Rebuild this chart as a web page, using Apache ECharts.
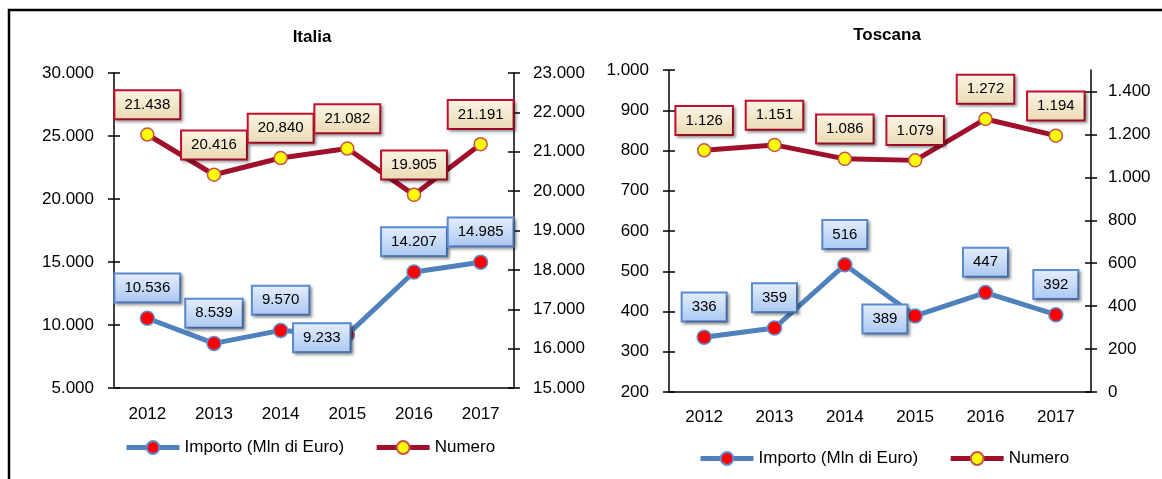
<!DOCTYPE html>
<html>
<head>
<meta charset="utf-8">
<title>Italia / Toscana</title>
<script src="https://cdn.jsdelivr.net/npm/echarts@6/dist/echarts.min.js"></script>
<style>
  html, body { margin: 0; padding: 0; background: #fff; }
  #chart { width: 1162px; height: 479px; }
</style>
</head>
<body>
<div id="chart"></div>
<script>
// dati
const years = ['2012', '2013', '2014', '2015', '2016', '2017'];
const italiaImporto = [10536, 8539, 9570, 9233, 14207, 14985];
const italiaNumero = [21438, 20416, 20840, 21082, 19905, 21191];
const toscanaImporto = [336, 359, 516, 389, 447, 392];
const toscanaNumero = [1126, 1151, 1086, 1079, 1272, 1194];
const toscanaNumeroTicks = [0, 200, 400, 600, 800, 1000, 1200, 1400];

const NAME_IMPORTO = 'Importo (Mln di Euro)';
const NAME_NUMERO = 'Numero';
const FONT = '"Liberation Sans", Arial, sans-serif';

function fmt (v) {
    return String(v).replace(/\B(?=(\d{3})+(?!\d))/g, '.');
}

const axisColor = '#000';

function mainX (grid, margin) {
    return {
        gridIndex: grid,
        type: 'category',
        position: 'bottom',
        data: years,
        axisLine: { lineStyle: { color: axisColor, width: 1.5 } },
        axisTick: { length: 6, lineStyle: { color: axisColor, width: 1.5 } },
        axisLabel: { color: '#000', fontSize: 17, fontFamily: FONT, margin: margin }
    };
}
// asse gemello: solo le tacche verso l'interno (tacche a croce)
function twinX (grid) {
    return {
        gridIndex: grid,
        type: 'category',
        position: 'bottom',
        data: years,
        axisLine: { show: false },
        axisTick: { inside: true, length: 6, lineStyle: { color: axisColor, width: 1.5 } },
        axisLabel: { show: false }
    };
}
function mainY (grid, pos, min, max, interval, margin, ticks) {
    const ax = {
        gridIndex: grid,
        type: 'value',
        position: pos,
        min: min,
        max: max,
        interval: interval,
        splitLine: { show: false },
        axisLine: { show: true, lineStyle: { color: axisColor, width: 1.5 } },
        axisTick: { show: true, length: 6, lineStyle: { color: axisColor, width: 1.5 } },
        axisLabel: { color: '#000', fontSize: 17, fontFamily: FONT, margin: margin, formatter: fmt }
    };
    if (ticks) {
        ax.axisTick.customValues = ticks;
        ax.axisLabel.customValues = ticks;
    }
    return ax;
}
function twinY (grid, pos, min, max, interval, ticks) {
    const ax = {
        gridIndex: grid,
        type: 'value',
        position: pos,
        min: min,
        max: max,
        interval: interval,
        splitLine: { show: false },
        axisLine: { show: false },
        axisTick: { show: true, inside: true, length: 6, lineStyle: { color: axisColor, width: 1.5 } },
        axisLabel: { show: false }
    };
    if (ticks) ax.axisTick.customValues = ticks;
    return ax;
}

const labelImporto = {
    show: true,
    position: 'top',
    distance: 9,
    color: '#000',
    fontSize: 15,
    fontFamily: FONT,
    lineHeight: 15,
    padding: [6, 9, 6, 9],
    borderColor: '#5a8ad0',
    borderWidth: 2,
    backgroundColor: new echarts.graphic.LinearGradient(0, 0, 0, 1, [
        { offset: 0, color: '#e6effc' },
        { offset: 1, color: '#a9c7f2' }
    ]),
    shadowColor: 'rgba(0,0,0,0.35)',
    shadowBlur: 3,
    shadowOffsetX: 2,
    shadowOffsetY: 2,
    formatter: p => fmt(p.value)
};
const labelNumero = Object.assign({}, labelImporto, {
    borderColor: '#c0102e',
    backgroundColor: new echarts.graphic.LinearGradient(0, 0, 0, 1, [
        { offset: 0, color: '#fcf6e6' },
        { offset: 1, color: '#ead9b2' }
    ])
});

function importoSeries (x, y, values, leftIdx, leftDist) {
    return {
        name: NAME_IMPORTO,
        type: 'line',
        xAxisIndex: x,
        yAxisIndex: y,
        symbol: 'circle',
        symbolSize: 14,
        lineStyle: { color: '#4f81bd', width: 5 },
        itemStyle: { color: '#ff0000', borderColor: '#5f8fd0', borderWidth: 1.5 },
        label: labelImporto,
        z: 3,
        data: values.map((v, i) => i === leftIdx
            ? { value: v, label: { position: 'left', distance: leftDist, offset: [0, 3] } }
            : v)
    };
}
function numeroSeries (x, y, values) {
    return {
        name: NAME_NUMERO,
        type: 'line',
        xAxisIndex: x,
        yAxisIndex: y,
        symbol: 'circle',
        symbolSize: 13,
        lineStyle: { color: '#a0102c', width: 5 },
        itemStyle: { color: '#ffff00', borderColor: '#c8504d', borderWidth: 1.5 },
        label: labelNumero,
        z: 3,
        data: values
    };
}

const legendBase = {
    orient: 'horizontal',
    padding: 0,
    itemWidth: 53,
    itemHeight: 16,
    itemGap: 30,
    lineStyle: { width: 5 },
    textStyle: { color: '#000', fontSize: 17, fontFamily: FONT },
    data: [NAME_IMPORTO, NAME_NUMERO]
};

const chart = echarts.init(document.getElementById('chart'));
chart.setOption({
    animation: false,
    backgroundColor: '#fff',
    title: [
        { text: 'Italia', left: 307, top: 24, textAlign: 'center',
          textStyle: { color: '#000', fontSize: 17, fontWeight: 'bold', fontFamily: FONT } },
        { text: 'Toscana', left: 882, top: 22, textAlign: 'center',
          textStyle: { color: '#000', fontSize: 17, fontWeight: 'bold', fontFamily: FONT } }
    ],
    legend: [
        Object.assign({}, legendBase, { left: 124, top: 439 }),
        Object.assign({}, legendBase, { left: 698, top: 450 })
    ],
    grid: [
        { left: 114, top: 73, width: 400, height: 315 },
        { left: 669, top: 70, width: 422, height: 322 }
    ],
    xAxis: [
        mainX(0, 18),
        mainX(1, 17),
        twinX(0),
        twinX(1)
    ],
    yAxis: [
        mainY(0, 'left', 5000, 30000, 5000, 20),
        mainY(0, 'right', 15000, 23000, 1000, 19),
        mainY(1, 'left', 200, 1000, 100, 20),
        mainY(1, 'right', 0, 1500, 100, 17, toscanaNumeroTicks),
        twinY(0, 'left', 5000, 30000, 5000),
        twinY(0, 'right', 15000, 23000, 1000),
        twinY(1, 'left', 200, 1000, 100),
        twinY(1, 'right', 0, 1500, 100, toscanaNumeroTicks)
    ],
    series: [
        importoSeries(0, 0, italiaImporto, 3, -10),
        numeroSeries(0, 1, italiaNumero),
        importoSeries(1, 2, toscanaImporto, 3, 1),
        numeroSeries(1, 3, toscanaNumero)
    ],
    graphic: [
        {
            type: 'rect',
            shape: { x: 9, y: 10, width: 1200, height: 520 },
            style: { fill: 'none', stroke: '#000', lineWidth: 2.5 },
            silent: true,
            z: 100
        }
    ]
});
</script>
</body>
</html>
